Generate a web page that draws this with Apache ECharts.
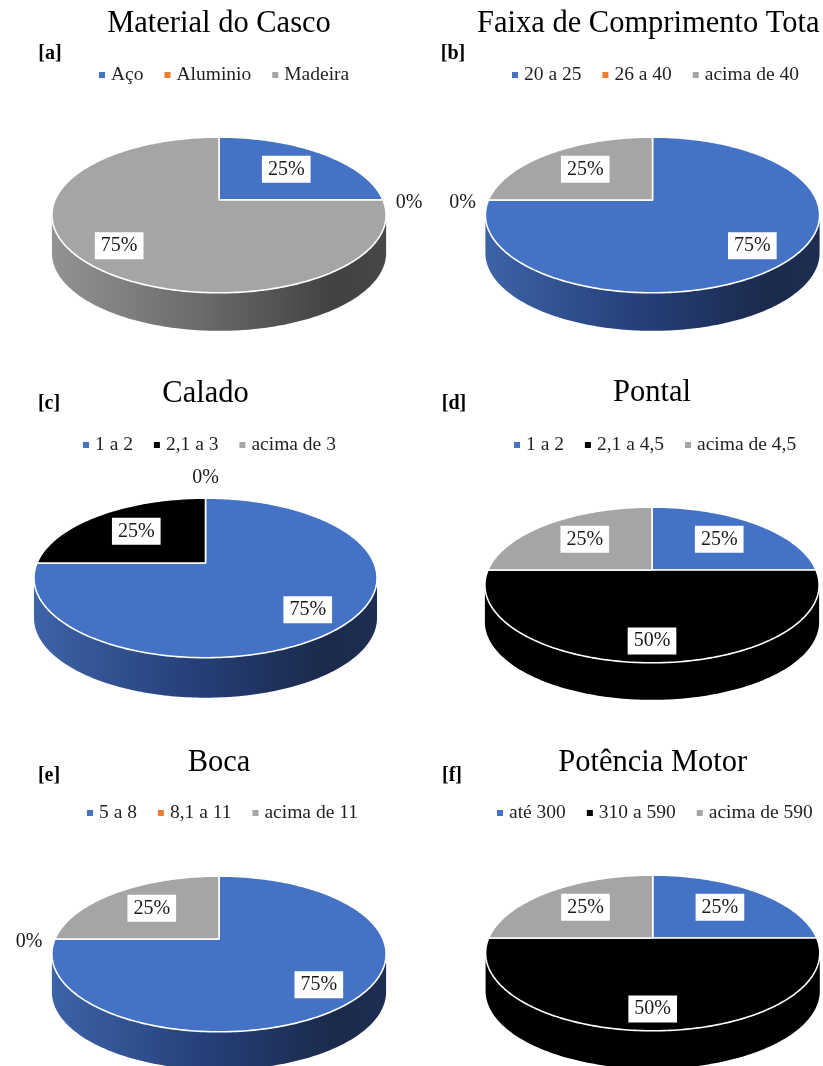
<!DOCTYPE html>
<html>
<head>
<meta charset="utf-8">
<script src="https://cdn.jsdelivr.net/npm/echarts@6/dist/echarts.min.js"></script>
<style>
html, body { margin: 0; padding: 0; background: #fff; }
#main { width: 823px; height: 1066px; }
</style>
</head>
<body>
<div id="main"></div>
<script>
// dados de cada gráfico
const titles = ['Material do Casco', 'Faixa de Comprimento Tota', 'Calado', 'Pontal', 'Boca', 'Potência Motor'];
const tags = ['[a]', '[b]', '[c]', '[d]', '[e]', '[f]'];

const catsA = ['Aço', 'Aluminio', 'Madeira'];
const valsA = [25, 0, 75];
const catsB = ['20 a 25', '26 a 40', 'acima de 40'];
const valsB = [75, 0, 25];
const catsC = ['1 a 2', '2,1 a 3', 'acima de 3'];
const valsC = [75, 25, 0];
const catsD = ['1 a 2', '2,1 a 4,5', 'acima de 4,5'];
const valsD = [25, 50, 25];
const catsE = ['5 a 8', '8,1 a 11', 'acima de 11'];
const valsE = [75, 0, 25];
const catsF = ['até 300', '310 a 590', 'acima de 590'];
const valsF = [25, 50, 25];

const cats = [catsA, catsB, catsC, catsD, catsE, catsF];
const values = [valsA, valsB, valsC, valsD, valsE, valsF];

const BLUE = '#4472C4', ORANGE = '#ED7D31', GRAY = '#A5A5A5', BLACK = '#000000';
const colors = [
  [BLUE, ORANGE, GRAY],
  [BLUE, ORANGE, GRAY],
  [BLUE, BLACK, GRAY],
  [BLUE, BLACK, GRAY],
  [BLUE, ORANGE, GRAY],
  [BLUE, BLACK, GRAY]
];
// lateral (efeito 3d)
const sideStops = {};
sideStops[BLUE] = [['#3d63a8', 0], ['#26407a', 0.45], ['#1b2a4b', 0.85], ['#1e2e52', 1]];
sideStops[GRAY] = [['#939393', 0], ['#6a6a6a', 0.45], ['#414141', 0.85], ['#474747', 1]];
sideStops[BLACK] = [['#000', 0], ['#000', 1]];
sideStops[ORANGE] = [['#d0692a', 0], ['#7a3d16', 1]];

// posição / tamanho de cada pizza
const layouts = [
  { cx: 219, cy: 200, A: 164, B: 75, p: 0.192, depth: 38, tx: 219, ty: 24, gx: 50, gy: 54, lx: 99, ly: 65 },
  { cx: 652.5, cy: 200, A: 164, B: 75, p: 0.192, depth: 38, tx: 477, ty: 24, gx: 453, gy: 54, lx: 512, ly: 65 },
  { cx: 205.5, cy: 563, A: 168.5, B: 77, p: 0.187, depth: 40, tx: 205.5, ty: 394, gx: 49, gy: 404, lx: 83, ly: 435 },
  { cx: 652, cy: 570, A: 164, B: 75, p: 0.192, depth: 37, tx: 652, ty: 393, gx: 454, gy: 404, lx: 514, ly: 435 },
  { cx: 219, cy: 939, A: 164, B: 75, p: 0.192, depth: 38, tx: 219, ty: 763, gx: 49, gy: 776, lx: 87, ly: 803 },
  { cx: 652.7, cy: 938, A: 164, B: 75, p: 0.192, depth: 38, tx: 652.7, ty: 763, gx: 452, gy: 776, lx: 497, ly: 803 }
];

const FONT = '"Liberation Serif", "Times New Roman", serif';

function proj(L, u, w) {
  const d = 1 - L.p * w;
  return [L.cx + L.A * u / d, L.cy + L.B * w / d];
}
function rim(L, deg, f) {
  const r = deg * Math.PI / 180;
  return proj(L, f * Math.cos(r), f * Math.sin(r));
}
function arc(L, a0, a1, dy) {
  const pts = [];
  const n = Math.max(2, Math.ceil(Math.abs(a1 - a0)));
  for (let i = 0; i <= n; i++) {
    const pt = rim(L, a0 + (a1 - a0) * i / n, 1);
    pts.push([pt[0], pt[1] + dy]);
  }
  return pts;
}

function makeRender(ci, k) {
  return function (params, api) {
    const L = layouts[ci];
    const vals = values[ci];
    const total = vals.reduce((s, v) => s + v, 0);
    let cum = 0;
    for (let j = 0; j < k; j++) cum += vals[j];
    const v = api.value(0);
    const a0 = -90 + 360 * cum / total;
    const a1 = a0 + 360 * v / total;
    const color = colors[ci][k];
    const children = [];
    const pct = Math.round(v / total * 100) + '%';

    if (v > 0) {
      // lateral visivel
      const f0 = Math.asin(L.p) * 180 / Math.PI;
      const f1 = 180 - f0;
      const lo = Math.max(a0, f0), hi = Math.min(a1, f1);
      if (hi > lo) {
        const wmax = L.A / Math.sqrt(1 - L.p * L.p);
        const pts = arc(L, lo, hi, 0).concat(arc(L, hi, lo, L.depth));
        children.push({
          type: 'polygon',
          z2: 1,
          shape: { points: pts },
          style: {
            fill: {
              type: 'linear', global: true,
              x: L.cx - wmax, y: 0, x2: L.cx + wmax, y2: 0,
              colorStops: sideStops[color].map(s => ({ offset: s[1], color: s[0] }))
            },
            stroke: null
          }
        });
      }
      // topo
      const top = [proj(L, 0, 0)].concat(arc(L, a0, a1, 0));
      children.push({
        type: 'polygon',
        z2: 10,
        shape: { points: top },
        style: { fill: color, stroke: '#fff', lineWidth: 1.6, lineJoin: 'round' }
      });
      const mid = (a0 + a1) / 2;
      const f = 0.7 + 0.1 * Math.sin(mid * Math.PI / 180);
      const lp = rim(L, mid, f);
      children.push({
        type: 'text',
        z2: 20,
        x: lp[0], y: lp[1],
        style: {
          text: pct, align: 'center', verticalAlign: 'middle',
          fontFamily: FONT, fontSize: 20, fill: '#1a1a1a',
          backgroundColor: '#fff', padding: [4, 6, 3, 6]
        }
      });
    } else {
      const c = proj(L, 0, 0);
      const r = rim(L, a0, 1);
      let dx = r[0] - c[0], dy = r[1] - c[1];
      const len = Math.sqrt(dx * dx + dy * dy) || 1;
      dx /= len; dy /= len;
      const off = 12 + Math.abs(dx) * 14 + Math.abs(dy) * 8;
      children.push({
        type: 'text',
        z2: 20,
        x: r[0] + dx * off, y: r[1] + dy * off + Math.abs(dx) * 3,
        style: {
          text: pct, align: 'center', verticalAlign: 'middle',
          fontFamily: FONT, fontSize: 20, fill: '#1a1a1a'
        }
      });
    }
    return { type: 'group', children: children };
  };
}

const series = [];
const legends = [];
const graphic = [];
cats.forEach(function (names, ci) {
  names.forEach(function (name, k) {
    series.push({
      type: 'custom',
      name: name,
      coordinateSystem: 'none',
      silent: true,
      animation: false,
      itemStyle: { color: colors[ci][k] },
      data: [values[ci][k]],
      renderItem: makeRender(ci, k)
    });
  });
  const L = layouts[ci];
  legends.push({
    data: names,
    left: L.lx,
    top: L.ly,
    padding: 0,
    icon: 'rect',
    itemWidth: 6,
    itemHeight: 6,
    itemGap: 21,
    selectedMode: false,
    textStyle: { fontFamily: FONT, fontSize: 19.5, color: '#1f1f1f', padding: [0, 0, 0, 1] }
  });
  graphic.push({
    type: 'text',
    x: L.tx, y: L.ty,
    style: {
      text: titles[ci], align: ci === 1 ? 'left' : 'center', verticalAlign: 'middle',
      fontFamily: FONT, fontSize: 30.5, fill: '#000'
    }
  });
  graphic.push({
    type: 'text',
    x: L.gx, y: L.gy,
    style: {
      text: tags[ci], align: 'center', verticalAlign: 'middle',
      fontFamily: FONT, fontSize: 20, fontWeight: 'bold', fill: '#000'
    }
  });
});

const myChart = echarts.init(document.getElementById('main'));
myChart.setOption({
  backgroundColor: '#fff',
  animation: false,
  legend: legends,
  graphic: graphic,
  series: series
});
</script>
</body>
</html>
